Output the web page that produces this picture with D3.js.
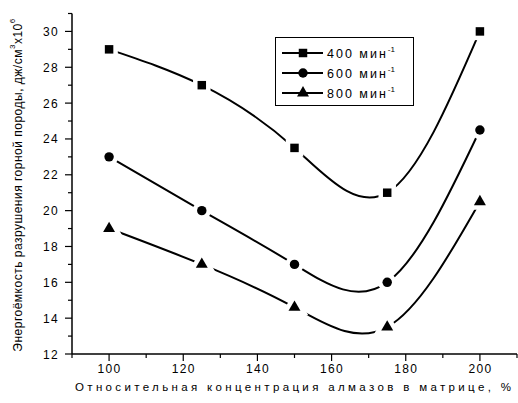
<!DOCTYPE html>
<html><head><meta charset="utf-8">
<script src="https://cdn.jsdelivr.net/npm/d3@7"></script>
<style>
body{margin:0;background:#fff;}
svg{display:block;font-family:"Liberation Sans",Arial,sans-serif;}
</style></head>
<body>
<svg id="c" width="518" height="403"></svg>
<script>
const xValues = [100, 125, 150, 175, 200];
const series400 = [29, 27, 23.5, 21, 30];
const series600 = [23, 20, 17, 16, 24.5];
const series800 = [19, 17, 14.6, 13.5, 20.5];
const seriesNames = ["400 мин", "600 мин", "800 мин"];
const seriesSymbols = ["square", "circle", "triangle"];
const xTicks = [100, 120, 140, 160, 180, 200];
const yTicks = [12, 14, 16, 18, 20, 22, 24, 26, 28, 30];
const xLabel = "Относительная концентрация алмазов в матрице, %";

const svg = d3.select("#c");
const x = d3.scaleLinear().domain([90, 210]).range([72, 517]);
const y = d3.scaleLinear().domain([12, 31]).range([354, 13.5]);

// axes
const gx = svg.append("g").attr("transform", "translate(0,354)");
gx.append("line").attr("x1", x(90)).attr("x2", x(210)).attr("stroke", "#000").attr("stroke-width", 1.5);
d3.range(90, 211, 10).forEach(v => {
  const major = xTicks.includes(v);
  gx.append("line").attr("x1", x(v)).attr("x2", x(v)).attr("y1", 0).attr("y2", major ? 7 : 4)
    .attr("stroke", "#000").attr("stroke-width", 1.2);
});
xTicks.forEach(v => {
  gx.append("text").attr("x", x(v) + 0.5).attr("y", 19).attr("text-anchor", "middle")
    .attr("font-size", 12).attr("letter-spacing", 1.3).text(v);
});

const gy = svg.append("g").attr("transform", "translate(72,0)");
gy.append("line").attr("y1", y(12)).attr("y2", y(31)).attr("stroke", "#000").attr("stroke-width", 1.5);
d3.range(12, 31.5, 1).forEach(v => {
  const major = yTicks.includes(v);
  gy.append("line").attr("y1", y(v)).attr("y2", y(v)).attr("x1", 0).attr("x2", major ? -7 : -4)
    .attr("stroke", "#000").attr("stroke-width", 1.2);
});
yTicks.forEach(v => {
  gy.append("text").attr("x", -13).attr("y", y(v) + 4.5).attr("text-anchor", "end")
    .attr("font-size", 12).attr("letter-spacing", 1.3).text(v);
});

// axis titles
svg.append("text").attr("x", 293).attr("y", 391).attr("text-anchor", "middle")
  .attr("font-size", 11.5).attr("textLength", 436).attr("lengthAdjust", "spacing").text(xLabel);

const yt = svg.append("text").attr("transform", "translate(22,185) rotate(-90)")
  .attr("text-anchor", "middle").attr("font-size", 12).attr("letter-spacing", 0.5);
yt.append("tspan").text("Энергоёмкость разрушения горной породы, дж/см");
yt.append("tspan").attr("dy", -7).attr("font-size", 8).text("3");
yt.append("tspan").attr("dy", 7).text("х10");
yt.append("tspan").attr("dy", -7).attr("font-size", 8).text("6");

// symbols
function sym(type, size) {
  if (type === "square") return d3.symbol(d3.symbolSquare, size)();
  if (type === "circle") return d3.symbol(d3.symbolCircle, size)();
  return d3.symbol(d3.symbolTriangle, size)();
}
const sizes = {square: 72, circle: 70, triangle: 62};

const allSeries = [series400, series600, series800];
const line = d3.line().x((d, i) => x(xValues[i])).y(d => y(d)).curve(d3.curveNatural);

allSeries.forEach((s, k) => {
  svg.append("path").attr("d", line(s)).attr("fill", "none").attr("stroke", "#000").attr("stroke-width", 2);
});
allSeries.forEach((s, k) => {
  const t = seriesSymbols[k];
  s.forEach((v, i) => {
    const tx = `translate(${x(xValues[i])},${y(v)})`;
    svg.append("path").attr("d", sym(t, sizes[t])).attr("transform", tx)
      .attr("fill", "#fff").attr("stroke", "#fff").attr("stroke-width", 9);
  });
  s.forEach((v, i) => {
    const tx = `translate(${x(xValues[i])},${y(v)})`;
    svg.append("path").attr("d", sym(t, sizes[t])).attr("transform", tx).attr("fill", "#000");
  });
});

// legend
const lg = svg.append("g");
lg.append("rect").attr("x", 275.5).attr("y", 37.5).attr("width", 138).attr("height", 68)
  .attr("fill", "#fff").attr("stroke", "#000").attr("stroke-width", 1);
seriesNames.forEach((n, k) => {
  const yy = 53 + k * 20;
  lg.append("line").attr("x1", 282).attr("x2", 323).attr("y1", yy).attr("y2", yy)
    .attr("stroke", "#000").attr("stroke-width", 2);
  lg.append("path").attr("d", sym(seriesSymbols[k], sizes[seriesSymbols[k]]))
    .attr("transform", `translate(303,${yy})`).attr("fill", "#000");
  const t = lg.append("text").attr("x", 327).attr("y", yy + 4.5).attr("font-size", 12.5).attr("letter-spacing", 2);
  t.append("tspan").text(n);
  t.append("tspan").attr("dy", -6).attr("font-size", 8).attr("letter-spacing", 0).text("-1");
});
</script>
</body></html>
